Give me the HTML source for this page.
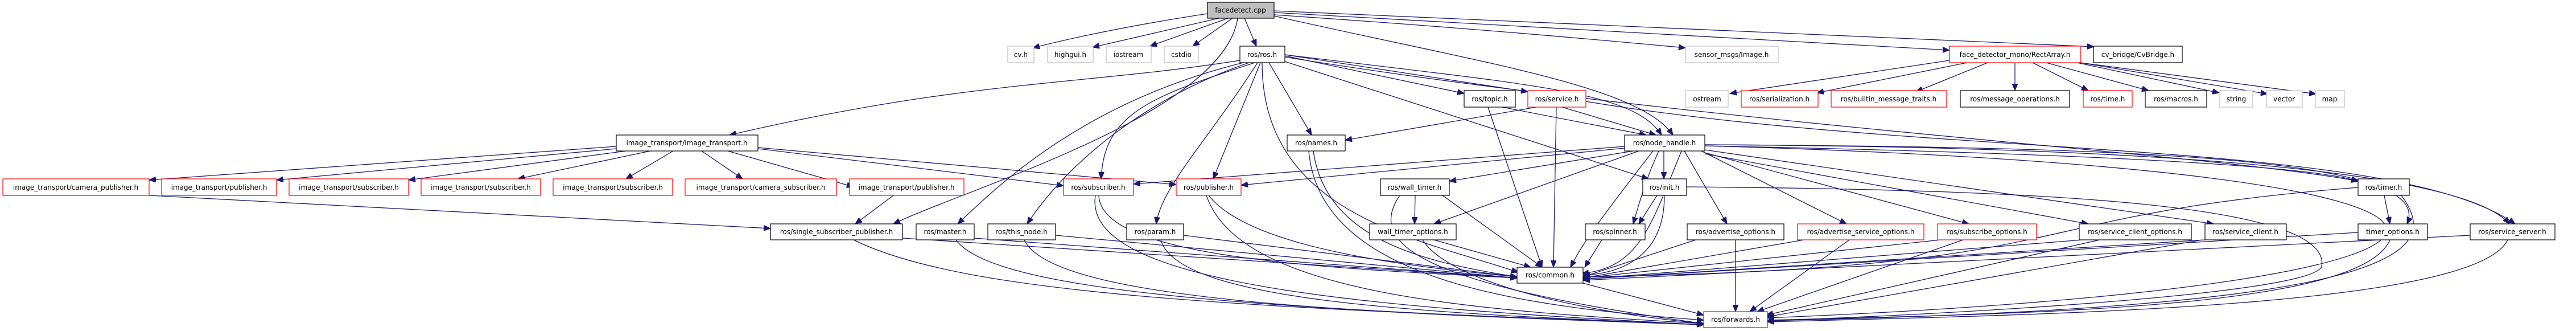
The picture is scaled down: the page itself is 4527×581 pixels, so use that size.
<!DOCTYPE html>
<html><head><meta charset="utf-8"><style>
html,body{margin:0;padding:0;background:#fff;width:4527px;height:581px;overflow:hidden}
svg{display:block}
text{font-family:"DejaVu Sans","Liberation Sans",sans-serif;font-size:12px;fill:#000;text-anchor:middle}
.e{fill:none;stroke:#191970;stroke-width:1.3;marker-end:url(#a)}
.k{fill:#fff;stroke:#000;stroke-width:1.2}
.r{fill:#fff;stroke:#f00;stroke-width:1.2}
.g{fill:#fff;stroke:#bfbfbf;stroke-width:1.2}
.f{fill:#bfbfbf;stroke:#000;stroke-width:1.2}
</style></head><body>
<svg width="4527" height="581" viewBox="0 0 4527 581" xmlns="http://www.w3.org/2000/svg">
<defs><marker id="a" markerUnits="userSpaceOnUse" markerWidth="13" markerHeight="10" refX="12" refY="5" orient="auto"><path d="M0,0 L12,5 L0,10 z" fill="#191970" stroke="#191970"/></marker></defs>
<g>
<!-- facedetect edges -->
<path class="e" d="M2122,24 Q1950,50 1815,84"/>
<path class="e" d="M2142,32 L1920,83"/>
<path class="e" d="M2158,32 L2021,81"/>
<path class="e" d="M2166,32 L2096,81"/>
<path class="e" d="M2187,32 L2208,81"/>
<path class="e" d="M2175,32 C2150,200 1700,330 1570,393"/>
<path class="e" d="M2239,26 Q2600,50 2962,84"/>
<path class="e" d="M2239,22 L3426,88"/>
<path class="e" d="M2239,19 L3680,82"/>
<path class="e" d="M2239,28 C2600,110 2880,150 2940,237"/>
<!-- ros.h edges -->
<path class="e" d="M2179,106 C1900,150 1700,140 1282,237"/>
<path class="e" d="M2185,110 C1900,180 1750,330 1683,393"/>
<path class="e" d="M2195,110 C2020,170 1880,280 1805,393"/>
<path class="e" d="M2205,110 C2020,170 1940,200 1935,314"/>
<path class="e" d="M2210,110 C2120,250 2040,330 2032,393"/>
<path class="e" d="M2215,110 L2132,314"/>
<path class="e" d="M2230,110 L2305,237"/>
<path class="e" d="M2218,110 C2218,380 2500,420 2668,478"/>
<path class="e" d="M2258,98 L2573,164"/>
<path class="e" d="M2258,96 L2685,161"/>
<path class="e" d="M2258,96 C2700,150 2870,160 2920,237"/>
<path class="e" d="M2258,108 L2897,314"/>
<path class="e" d="M2258,100 C3000,220 3900,270 4144,318"/>
<path class="e" d="M2787,178 C3400,280 4200,240 4420,393"/>
<!-- service/topic/names -->
<path class="e" d="M2700,188 L2364,246"/>
<path class="e" d="M2735,188 L2730,469"/>
<path class="e" d="M2745,188 L2910,237"/>
<path class="e" d="M2640,188 L2893,237"/>
<path class="e" d="M2615,188 L2710,469"/>
<path class="e" d="M2308,265 C2330,420 2500,460 2666,486"/>
<path class="e" d="M2300,265 C2320,500 2700,540 2994,562"/>
<!-- node_handle -->
<path class="e" d="M2855,257 L1992,323"/>
<path class="e" d="M2855,260 L2181,325"/>
<path class="e" d="M2870,265 L2547,318"/>
<path class="e" d="M2880,265 L2520,393"/>
<path class="e" d="M2924,265 L2924,314"/>
<path class="e" d="M2915,265 C2890,320 2880,360 2870,393"/>
<path class="e" d="M2905,265 C2800,400 2780,430 2760,469"/>
<path class="e" d="M2960,265 L3035,393"/>
<path class="e" d="M2990,265 L3245,393"/>
<path class="e" d="M2996,268 L3460,393"/>
<path class="e" d="M2996,270 L3670,393"/>
<path class="e" d="M2996,263 L3890,393"/>
<path class="e" d="M2996,256 C3600,268 4050,288 4144,318"/>
<path class="e" d="M2996,254 C3800,258 4280,280 4230,393"/>
<path class="e" d="M2996,254 C3800,258 4330,300 4410,393"/>
<path class="e" d="M2996,256 C4600,300 4550,500 3106,558"/>
<path class="e" d="M2955,265 C2900,400 2880,470 2780,480"/>
<!-- init -->
<path class="e" d="M2912,343 L2880,393"/>
<path class="e" d="M2925,343 C2925,450 2850,480 2782,483"/>
<path class="e" d="M2964,328 C3600,333 4100,358 4080,468 C4060,518 3400,553 3106,563"/>
<!-- wall timer -->
<path class="e" d="M2487,343 L2486,393"/>
<path class="e" d="M2535,343 L2710,469"/>
<path class="e" d="M2460,343 C2400,430 2500,500 2994,568"/>
<path class="e" d="M2520,421 L2690,469"/>
<path class="e" d="M2500,421 C2550,500 2800,550 2994,568"/>
<!-- sub / pub -->
<path class="e" d="M1931,343 C1935,450 2300,470 2666,488"/>
<path class="e" d="M1925,343 C1900,500 2400,540 2994,570"/>
<path class="e" d="M2124,343 C2200,440 2500,470 2666,486"/>
<path class="e" d="M2120,343 C2180,520 2600,545 2994,568"/>
<!-- row4 left -->
<path class="e" d="M1586,418 L2666,488"/>
<path class="e" d="M1500,421 C1700,520 2200,540 2994,570"/>
<path class="e" d="M1712,418 L2666,488"/>
<path class="e" d="M1680,421 C1750,520 2300,545 2994,570"/>
<path class="e" d="M1855,413 L2666,488"/>
<path class="e" d="M1800,421 C1850,530 2400,550 2994,570"/>
<path class="e" d="M2080,413 L2666,486"/>
<path class="e" d="M2040,421 C2070,530 2500,550 2994,570"/>
<path class="e" d="M2815,421 L2785,469"/>
<!-- row4 right -->
<path class="e" d="M2980,421 L2782,486"/>
<path class="e" d="M3050,421 L3050,547"/>
<path class="e" d="M3170,421 L2782,488"/>
<path class="e" d="M3250,421 L3075,547"/>
<path class="e" d="M3410,421 L2782,488"/>
<path class="e" d="M3450,421 L3088,547"/>
<path class="e" d="M3660,421 L2782,490"/>
<path class="e" d="M3690,421 L3104,553"/>
<path class="e" d="M3875,421 L2782,490"/>
<path class="e" d="M3870,421 L3106,556"/>
<path class="e" d="M4144,408 L2782,490"/>
<path class="e" d="M4200,421 C4150,540 3600,550 3106,562"/>
<path class="e" d="M4341,413 L2782,492"/>
<path class="e" d="M4407,421 C4350,540 3600,552 3106,565"/>
<path class="e" d="M4190,343 L4200,393"/>
<path class="e" d="M4144,329 C3500,380 3700,470 2782,486"/>
<path class="e" d="M4220,343 C4300,450 4200,540 3106,563"/>
<path class="e" d="M2782,497 L2994,553"/>
<!-- image_transport -->
<path class="e" d="M1083,257 L262,316"/>
<path class="e" d="M1083,261 L486,316"/>
<path class="e" d="M1100,265 L718,316"/>
<path class="e" d="M1143,265 L910,314"/>
<path class="e" d="M1183,265 L1100,314"/>
<path class="e" d="M1233,265 L1305,314"/>
<path class="e" d="M1279,265 L1500,328"/>
<path class="e" d="M1332,261 L1869,326"/>
<path class="e" d="M1332,259 L2067,324"/>
<path class="e" d="M262,343 L1354,401"/>
<path class="e" d="M1570,343 L1503,393"/>
<!-- RectArray -->
<path class="e" d="M3426,106 L3040,164"/>
<path class="e" d="M3457,110 L3193,163"/>
<path class="e" d="M3493,110 L3367,161"/>
<path class="e" d="M3541,110 L3541,159"/>
<path class="e" d="M3572,110 L3670,159"/>
<path class="e" d="M3596,110 L3776,159"/>
<path class="e" d="M3650,110 L3900,163"/>
<path class="e" d="M3656,110 L3985,165"/>
<path class="e" d="M3656,110 L4070,165"/>
</g>
<g>
<rect class="f" x="2122" y="4" width="117" height="28"/><text x="2180" y="22">facedetect.cpp</text>
<rect class="g" x="1771" y="81" width="46" height="29"/><text x="1794" y="100">cv.h</text>
<rect class="g" x="1841" y="81" width="80" height="29"/><text x="1881" y="100">highgui.h</text>
<rect class="g" x="1944" y="81" width="79" height="29"/><text x="1983" y="100">iostream</text>
<rect class="g" x="2046" y="81" width="60" height="29"/><text x="2076" y="100">cstdio</text>
<rect class="k" x="2179" y="81" width="79" height="29"/><text x="2218" y="100">ros/ros.h</text>
<rect class="g" x="2962" y="81" width="163" height="29"/><text x="3043" y="100">sensor_msgs/Image.h</text>
<rect class="r" x="3426" y="81" width="230" height="29"/><text x="3541" y="100">face_detector_mono/RectArray.h</text>
<rect class="k" x="3679" y="81" width="156" height="29"/><text x="3757" y="100">cv_bridge/CvBridge.h</text>

<rect class="k" x="2573" y="159" width="90" height="29"/><text x="2618" y="178">ros/topic.h</text>
<rect class="r" x="2685" y="159" width="102" height="29"/><text x="2736" y="178">ros/service.h</text>
<rect class="g" x="2962" y="159" width="75" height="29"/><text x="3000" y="178">ostream</text>
<rect class="r" x="3060" y="159" width="135" height="29"/><text x="3127" y="178">ros/serialization.h</text>
<rect class="r" x="3218" y="159" width="203" height="29"/><text x="3319" y="178">ros/builtin_message_traits.h</text>
<rect class="k" x="3445" y="159" width="192" height="29"/><text x="3541" y="178">ros/message_operations.h</text>
<rect class="r" x="3661" y="159" width="86" height="29"/><text x="3704" y="178">ros/time.h</text>
<rect class="k" x="3770" y="159" width="108" height="29"/><text x="3824" y="178">ros/macros.h</text>
<rect class="g" x="3901" y="159" width="58" height="29"/><text x="3930" y="178">string</text>
<rect class="g" x="3983" y="159" width="63" height="29"/><text x="4014" y="178">vector</text>
<rect class="g" x="4069" y="159" width="51" height="29"/><text x="4094" y="178">map</text>

<rect class="k" x="1083" y="237" width="249" height="28"/><text x="1207" y="255">image_transport/image_transport.h</text>
<rect class="k" x="2262" y="237" width="102" height="28"/><text x="2313" y="255">ros/names.h</text>
<rect class="k" x="2855" y="237" width="141" height="28"/><text x="2925" y="255">ros/node_handle.h</text>

<rect class="r" x="5" y="314" width="257" height="29"/><text x="133" y="333">image_transport/camera_publisher.h</text>
<rect class="r" x="284" y="314" width="202" height="29"/><text x="385" y="333">image_transport/publisher.h</text>
<rect class="r" x="508" y="314" width="210" height="29"/><text x="613" y="333">image_transport/subscriber.h</text>
<rect class="r" x="740" y="314" width="210" height="29"/><text x="845" y="333">image_transport/subscriber.h</text>
<rect class="r" x="972" y="314" width="210" height="29"/><text x="1077" y="333">image_transport/subscriber.h</text>
<rect class="r" x="1204" y="314" width="266" height="29"/><text x="1337" y="333">image_transport/camera_subscriber.h</text>
<rect class="r" x="1493" y="314" width="201" height="29"/><text x="1593" y="333">image_transport/publisher.h</text>
<rect class="r" x="1869" y="314" width="123" height="29"/><text x="1930" y="333">ros/subscriber.h</text>
<rect class="r" x="2067" y="314" width="114" height="29"/><text x="2124" y="333">ros/publisher.h</text>
<rect class="k" x="2426" y="314" width="121" height="29"/><text x="2486" y="333">ros/wall_timer.h</text>
<rect class="k" x="2887" y="314" width="77" height="29"/><text x="2925" y="333">ros/init.h</text>
<rect class="k" x="4144" y="314" width="90" height="29"/><text x="4189" y="333">ros/timer.h</text>

<rect class="k" x="1354" y="393" width="232" height="28"/><text x="1470" y="411">ros/single_subscriber_publisher.h</text>
<rect class="k" x="1610" y="393" width="102" height="28"/><text x="1661" y="411">ros/master.h</text>
<rect class="k" x="1736" y="393" width="119" height="28"/><text x="1795" y="411">ros/this_node.h</text>
<rect class="k" x="1980" y="393" width="100" height="28"/><text x="2030" y="411">ros/param.h</text>
<rect class="k" x="2407" y="393" width="152" height="28"/><text x="2483" y="411">wall_timer_options.h</text>
<rect class="k" x="2786" y="393" width="105" height="28"/><text x="2838" y="411">ros/spinner.h</text>
<rect class="k" x="2965" y="393" width="170" height="28"/><text x="3050" y="411">ros/advertise_options.h</text>
<rect class="r" x="3159" y="393" width="222" height="28"/><text x="3270" y="411">ros/advertise_service_options.h</text>
<rect class="r" x="3405" y="393" width="174" height="28"/><text x="3492" y="411">ros/subscribe_options.h</text>
<rect class="k" x="3654" y="393" width="197" height="28"/><text x="3752" y="411">ros/service_client_options.h</text>
<rect class="k" x="3875" y="393" width="143" height="28"/><text x="3946" y="411">ros/service_client.h</text>
<rect class="k" x="4144" y="393" width="122" height="28"/><text x="4205" y="411">timer_options.h</text>
<rect class="k" x="4341" y="393" width="149" height="28"/><text x="4415" y="411">ros/service_server.h</text>

<rect class="k" x="2666" y="469" width="116" height="28"/><text x="2724" y="487">ros/common.h</text>
<rect class="r" x="2994" y="547" width="112" height="28"/><text x="3050" y="565">ros/forwards.h</text>
</g>
</svg>
</body></html>
